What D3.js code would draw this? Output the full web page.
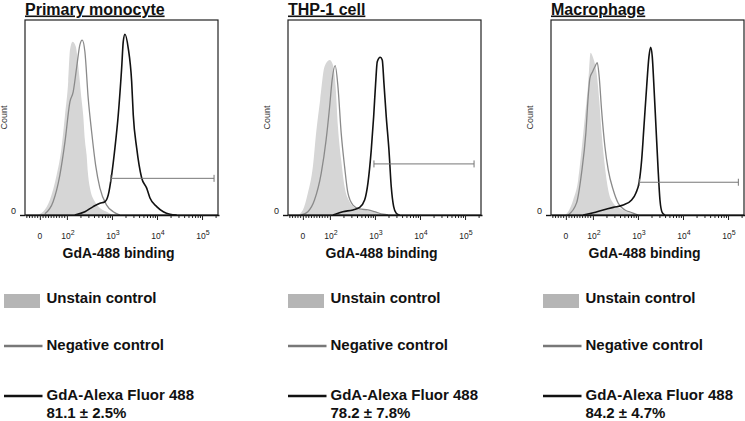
<!DOCTYPE html>
<html><head><meta charset="utf-8">
<script src="https://cdn.jsdelivr.net/npm/d3@7"></script>
<style>body{margin:0;background:#fff} text{font-family:"Liberation Sans",Arial,sans-serif}</style>
</head><body><svg id="c" width="745" height="421"></svg>
<script>
// ---------- data ----------
const panelTitles = ["Primary monocyte", "THP-1 cell", "Macrophage"];
const seriesNames = ["Unstain control", "Negative control", "GdA-Alexa Fluor 488"];
const percentLabels = ["81.1 \u00B1 2.5%", "78.2 \u00B1 7.8%", "84.2 \u00B1 4.7%"];
const xAxisTitle = "GdA-488 binding";
const yAxisTitle = "Count";
const xTickValues = [0, 100, 1000, 10000, 100000];
const xTickBase = ["0", "10", "10", "10", "10"];
const xTickExp = ["", "2", "3", "4", "5"];
const xMinorTicks = [-50, -40, -30, -20, -10, 10, 20, 30, 40, 50, 60, 70, 80, 90,
  200, 300, 400, 500, 600, 700, 800, 900, 2000, 3000, 4000, 5000, 6000, 7000, 8000, 9000,
  20000, 30000, 40000, 50000, 60000, 70000, 80000, 90000, 200000];
const xDomain = [-55, 238000];
// [intensity, count (% of max scale)]
const unstainP1 = [[-12,0],[12,1.7],[37,7.7],[62,20.5],[80,34.4],[93,51.3],[107,68.4],[117,84.6],[134,88.9],[158,86.3],[178,76.9],[212,59],[230,51.3],[251,38.5],[274,30.8],[293,21.5],[325,13.8],[419,6.8],[541,3.6],[762,1.7],[1052,0]];
const negativeP1 = [[18.5,0.6],[49,6.8],[74,20.5],[93,37.6],[117,58.1],[138,63.2],[164,75.4],[194,87.2],[219,89.7],[251,83.7],[297,60],[354,42.7],[434,25.6],[541,13.8],[762,5.1],[1069,1.7],[1506,0]];
const gdaP1 = [[150,0],[251,1.7],[384,4.3],[541,6],[699,6.8],[828,10.3],[985,20.5],[1166,34.4],[1380,51.3],[1643,75.4],[1783,88.9],[1945,92.7],[2302,85.5],[2740,68.4],[2974,51.3],[3539,34.4],[4571,19],[5904,13.8],[6988,8.7],[9847,4.3],[13804,1.7],[19450,0.4],[27400,0]];
const unstainP2 = [[-18.5,0],[0,2.6],[18.5,11.3],[37,24.8],[49,42.1],[64,59],[80,76],[99,79.5],[117,76.9],[134,65.8],[151,45.3],[178,28.2],[212,14.5],[274,6.8],[384,3.4],[541,2.6],[902,1.7],[1506,0.4],[1945,0]];
const negativeP2 = [[-6,0],[18.5,1.7],[43,7.7],[68,21.5],[86,38.5],[99,55.5],[112,69.2],[131,76.6],[151,65.8],[178,42.1],[212,24.8],[251,11.3],[325,5.1],[457,3.1],[699,2.6],[985,1.7],[1506,0.4],[1945,0]];
const gdaP2 = [[117,0],[194,1.7],[325,2.6],[457,3.9],[590,7.7],[699,16.4],[828,33.3],[936,50.4],[1036,67.5],[1125,78.6],[1312,80.9],[1453,79.5],[1585,67.5],[1783,50.4],[2047,33.3],[2302,14.5],[2604,4.3],[2974,0.9],[3539,0]];
const unstainP3 = [[-3.7,0],[8.5,1.7],[27,7.7],[45.5,17.9],[58,33.3],[70.4,50.4],[82.6,67.5],[91.5,83.2],[102,80.4],[121,72.7],[138,59],[156,42.1],[185,24.8],[219,12.8],[283,6],[398,3.4],[561,1.7],[936,0]];
const negativeP3 = [[8.5,0],[39.6,6.2],[58,21.5],[74,42.1],[82.6,60.7],[88.9,70.1],[98.9,73.5],[110.8,76],[125,78.1],[138,70.9],[156,53.8],[185,35],[219,23.1],[283,12.8],[365,6],[514,2.6],[724,1.2],[1016,0]];
const gdaP3 = [[64,0],[102,1.2],[169,2.6],[283,3.9],[471,5.1],[724,7.7],[902,11.3],[1069,17.1],[1209,28.2],[1359,45.3],[1561,65.8],[1756,81.2],[1915,86],[2079,81.2],[2267,65.8],[2512,45.3],[2783,24.8],[3082,7.7],[3467,1.2],[3981,0]];
const gateRanges = [[950, 184800], [950, 158500], [1069, 169400]];
const gateLevels = [18.8, 26.2, 16.8];

const unstainSeries = [unstainP1, unstainP2, unstainP3];
const negativeSeries = [negativeP1, negativeP2, negativeP3];
const gdaSeries = [gdaP1, gdaP2, gdaP3];

// ---------- layout ----------
const panelLeft = [25, 288, 551];
const legendLeft = [4, 288, 543];
const plotTop = 20, plotW = 193, plotH = 195;

const svg = d3.select("#c");

// biexponential-like display transform: linear near zero, log above 100
const xT = v => v >= 100 ? Math.log10(v) : 1.4 + 0.006 * v;
const xs = d3.scaleLinear().domain(xDomain.map(xT)).range([0, plotW * 194 / 193]);
const X = v => xs(xT(v));
const y = d3.scaleLinear().domain([0, 100]).range([plotH, 0]);

const area = d3.area().x(d => X(d[0])).y0(y(0)).y1(d => y(d[1])).curve(d3.curveMonotoneX);
const line = d3.line().x(d => X(d[0])).y(d => y(d[1])).curve(d3.curveMonotoneX);

panelTitles.forEach((title, i) => {
  const g = svg.append("g").attr("transform", `translate(${panelLeft[i]},${plotTop})`);

  // title
  svg.append("text").attr("x", panelLeft[i]).attr("y", 14.5)
    .attr("font-size", 16).attr("font-weight", "bold").attr("fill", "#111")
    .style("text-decoration", "underline").text(title);

  g.append("clipPath").attr("id", "clip" + i)
    .append("rect").attr("width", plotW).attr("height", plotH);

  const plot = g.append("g").attr("clip-path", `url(#clip${i})`);
  plot.append("path").datum(unstainSeries[i]).attr("d", area).attr("fill", "#d6d6d6");
  plot.append("path").datum(negativeSeries[i]).attr("d", line)
    .attr("fill", "none").attr("stroke", "#8a8a8a").attr("stroke-width", 1.3);
  plot.append("path").datum(gdaSeries[i]).attr("d", line)
    .attr("fill", "none").attr("stroke", "#111").attr("stroke-width", 1.6);

  // gate
  const gy = y(gateLevels[i]);
  const gx0 = X(gateRanges[i][0]), gx1 = X(gateRanges[i][1]);
  const gate = g.append("g").attr("stroke", "#777").attr("stroke-width", 1);
  gate.append("line").attr("x1", gx0).attr("x2", gx1).attr("y1", gy).attr("y2", gy);
  gate.append("line").attr("x1", gx0).attr("x2", gx0).attr("y1", gy - 3.5).attr("y2", gy + 3.5);
  gate.append("line").attr("x1", gx1).attr("x2", gx1).attr("y1", gy - 3.5).attr("y2", gy + 3.5);

  // box
  g.append("rect").attr("width", plotW).attr("height", plotH)
    .attr("fill", "none").attr("stroke", "#222").attr("stroke-width", 1.2);

  // x axis
  const axMinor = g.append("g").attr("transform", `translate(0,${plotH})`)
    .call(d3.axisBottom(xs).tickValues(xMinorTicks.map(xT)).tickSize(3).tickSizeOuter(0).tickFormat(""));
  axMinor.select(".domain").remove();
  axMinor.selectAll("line").attr("stroke", "#222");
  const axMajor = g.append("g").attr("transform", `translate(0,${plotH})`)
    .call(d3.axisBottom(xs).tickValues(xTickValues.map(xT)).tickSize(5).tickSizeOuter(0).tickFormat(""));
  axMajor.select(".domain").attr("stroke", "#111").attr("stroke-width", 1.6);
  axMajor.selectAll("line").attr("stroke", "#222");

  xTickValues.forEach((v, k) => {
    const t = g.append("text").attr("x", X(v) + (k ? 1 : 0)).attr("y", plotH + 24)
      .attr("text-anchor", "middle").attr("font-size", 8.5).attr("fill", "#222");
    t.append("tspan").text(xTickBase[k]);
    if (xTickExp[k]) t.append("tspan").attr("dy", -4.5).attr("font-size", 7).text(xTickExp[k]);
  });

  g.append("text").attr("x", plotW / 2 - 3).attr("y", plotH + 42.5)
    .attr("text-anchor", "middle").attr("font-size", 14).attr("font-weight", "bold")
    .attr("fill", "#111").text(xAxisTitle);

  // y axis
  const ay = g.append("g").call(d3.axisLeft(y).tickValues([0]).tickSize(5).tickSizeOuter(0).tickFormat(""));
  ay.select(".domain").remove();
  ay.selectAll("line").attr("stroke", "#111").attr("stroke-width", 1.4);
  g.append("text").attr("x", -9).attr("y", y(0) - 1).attr("text-anchor", "end")
    .attr("font-size", 9).attr("fill", "#222").text("0");
  g.append("text").attr("transform", `translate(-18,${plotH / 2}) rotate(-90)`)
    .attr("text-anchor", "middle").attr("font-size", 9).attr("fill", "#333").text(yAxisTitle);

  // legend
  const L = svg.append("g").attr("transform", `translate(${legendLeft[i]},0)`);
  L.append("rect").attr("x", 0).attr("y", 294).attr("width", 36).attr("height", 14).attr("fill", "#b5b5b5");
  L.append("line").attr("x1", 0).attr("x2", 38.5).attr("y1", 346).attr("y2", 346)
    .attr("stroke", "#787878").attr("stroke-width", 2.5);
  L.append("line").attr("x1", 0).attr("x2", 38.5).attr("y1", 396).attr("y2", 396)
    .attr("stroke", "#111").attr("stroke-width", 2.5);
  const lt = (yy, s) => L.append("text").attr("x", 42.5).attr("y", yy)
    .attr("font-size", 15).attr("font-weight", "bold").attr("fill", "#111").text(s);
  lt(303, seriesNames[0]);
  lt(349.5, seriesNames[1]);
  lt(400, seriesNames[2]);
  lt(418, percentLabels[i]);
});
</script></body></html>
